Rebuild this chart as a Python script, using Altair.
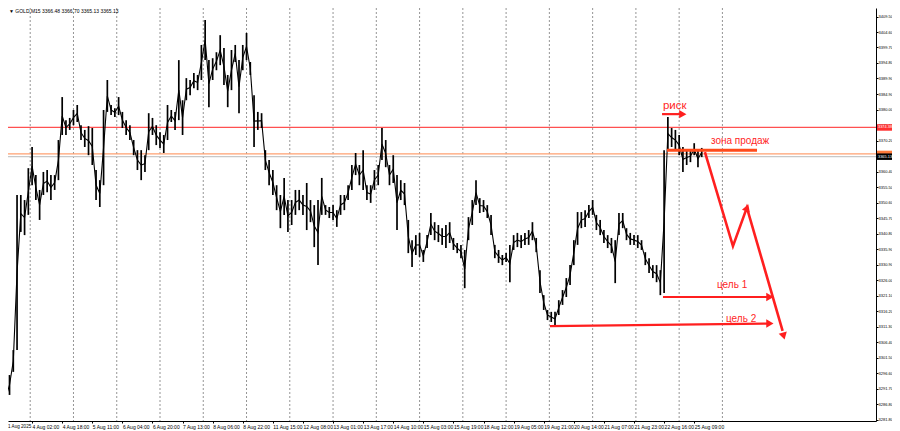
import json
import altair as alt
import pandas as pd

# ---- price data (GOLD M15, sampled every 2 trading hours: high / low) ----
hours = list(range(0, 374, 2))
highs = [3298.2, 3292.8, 3296.0, 3303.9, 3353.0, 3353.0, 3351.4, 3361.5, 3368.2, 3359.3,
         3354.6, 3360.3, 3360.9, 3359.3, 3359.3, 3370.4, 3384.0, 3376.7, 3377.4, 3379.9,
         3381.5, 3375.1, 3373.6, 3374.8, 3374.2, 3360.9, 3357.7, 3379.9, 3389.4, 3381.5,
         3380.5, 3384.0, 3379.3, 3376.7, 3375.1, 3370.4, 3367.2, 3367.2, 3365.6, 3378.9,
         3377.4, 3375.1, 3372.9, 3372.0, 3381.5, 3379.9, 3379.3, 3395.7, 3383.0, 3390.0,
         3389.4, 3391.6, 3391.0, 3400.5, 3408.4, 3395.7, 3396.3, 3398.2, 3403.6, 3399.5,
         3391.0, 3398.9, 3400.5, 3395.7, 3400.5, 3404.3, 3395.1, 3384.6, 3379.3, 3378.9,
         3367.2, 3364.1, 3360.9, 3356.1, 3353.0, 3358.4, 3351.4, 3351.4, 3354.6, 3354.6,
         3353.0, 3356.8, 3351.4, 3349.8, 3351.4, 3358.4, 3349.8, 3349.2, 3349.8, 3348.2,
         3353.0, 3353.0, 3356.1, 3362.5, 3366.3, 3362.5, 3367.2, 3356.1, 3356.1, 3360.9,
         3362.5, 3374.2, 3370.4, 3362.5, 3365.6, 3359.3, 3357.7, 3356.8, 3345.1, 3338.7,
         3340.3, 3341.0, 3335.6, 3340.3, 3347.3, 3344.4, 3343.5, 3342.5, 3343.5, 3344.4,
         3339.4, 3337.8, 3337.2, 3335.6, 3346.0, 3351.4, 3357.7, 3352.0, 3351.4, 3349.8,
         3346.7, 3337.2, 3335.6, 3334.0, 3334.6, 3337.2, 3340.3, 3341.0, 3340.3, 3341.0,
         3341.9, 3344.4, 3339.4, 3329.2, 3321.3, 3316.6, 3316.0, 3316.0, 3319.7, 3322.9,
         3326.7, 3330.8, 3338.7, 3347.6, 3347.6, 3348.2, 3349.8, 3351.4, 3346.7, 3345.1,
         3341.9, 3340.3, 3339.4, 3338.7, 3347.3, 3347.3, 3342.5, 3341.0, 3340.3, 3340.3,
         3338.7, 3334.9, 3333.0, 3330.8, 3330.8, 3329.2, 3367.2, 3377.7, 3374.2, 3373.6,
         3372.0, 3368.2, 3367.2, 3367.2, 3369.4, 3367.2, 3367.9]
lows = [3292.8, 3284.9, 3289.7, 3297.0, 3303.9, 3341.3, 3340.3, 3346.7, 3356.1, 3351.4,
        3345.1, 3353.0, 3353.9, 3351.4, 3354.6, 3357.7, 3372.0, 3372.0, 3373.6, 3375.1,
        3376.1, 3370.4, 3368.2, 3365.6, 3362.5, 3351.4, 3349.2, 3356.1, 3379.3, 3378.3,
        3377.7, 3378.3, 3374.2, 3372.0, 3370.4, 3365.6, 3360.9, 3357.7, 3360.3, 3367.2,
        3372.0, 3368.8, 3367.9, 3366.3, 3370.4, 3376.1, 3373.6, 3376.7, 3372.0, 3383.0,
        3384.6, 3386.8, 3386.2, 3389.4, 3395.7, 3380.8, 3389.4, 3392.5, 3394.1, 3387.8,
        3380.8, 3386.2, 3395.1, 3378.9, 3392.5, 3395.7, 3391.0, 3368.2, 3373.6, 3374.2,
        3360.9, 3356.1, 3353.0, 3348.2, 3342.5, 3346.7, 3341.3, 3343.5, 3346.7, 3348.2,
        3346.7, 3341.9, 3344.4, 3336.5, 3330.8, 3346.7, 3346.7, 3345.7, 3345.1, 3342.9,
        3346.7, 3348.2, 3351.4, 3354.6, 3359.3, 3356.1, 3354.6, 3351.4, 3350.5, 3354.6,
        3356.1, 3364.1, 3361.8, 3356.1, 3356.8, 3341.9, 3351.4, 3349.8, 3334.6, 3330.2,
        3334.0, 3333.4, 3331.8, 3336.2, 3340.3, 3338.7, 3338.1, 3337.2, 3336.2, 3337.8,
        3335.6, 3334.6, 3333.0, 3323.5, 3338.7, 3343.5, 3349.8, 3347.3, 3347.6, 3345.7,
        3340.3, 3333.0, 3331.5, 3330.8, 3331.8, 3325.4, 3335.6, 3336.5, 3336.2, 3337.2,
        3337.2, 3338.7, 3334.9, 3322.0, 3316.6, 3313.4, 3312.8, 3311.5, 3315.0, 3318.2,
        3320.7, 3324.5, 3330.8, 3337.2, 3342.5, 3342.9, 3345.7, 3346.7, 3341.9, 3340.3,
        3337.8, 3336.2, 3334.6, 3325.1, 3340.3, 3342.5, 3338.7, 3337.2, 3337.2, 3336.2,
        3335.6, 3330.8, 3328.3, 3326.7, 3325.4, 3321.3, 3322.0, 3367.2, 3368.2, 3367.2,
        3365.6, 3360.3, 3362.5, 3363.4, 3365.6, 3361.8, 3365.0]

# ---- axes ----
first_label = "1 Aug 2025"
label_hours = [16, 32, 48, 64, 80, 96, 112, 128, 144, 160, 176, 192, 208, 224, 240,
               256, 272, 288, 304, 320, 336, 352, 368]
label_texts = ["4 Aug 02:00", "4 Aug 18:00", "5 Aug 11:00", "6 Aug 04:00", "6 Aug 20:00",
               "7 Aug 13:00", "8 Aug 06:00", "8 Aug 22:00", "11 Aug 15:00", "12 Aug 08:00",
               "13 Aug 01:00", "13 Aug 17:00", "14 Aug 10:00", "15 Aug 03:00", "15 Aug 19:00",
               "18 Aug 12:00", "19 Aug 05:00", "19 Aug 21:00", "20 Aug 14:00", "21 Aug 07:00",
               "21 Aug 23:00", "22 Aug 16:00", "25 Aug 09:00"]
day_separators = [15, 38, 61, 84, 107, 130, 153, 176, 199, 222, 245, 268, 291, 314, 337, 360, 383]
price_ticks = [3409.50, 3404.60, 3399.70, 3394.80, 3389.90, 3384.90, 3380.00, 3375.10,
               3370.20, 3365.30, 3360.40, 3355.50, 3350.60, 3345.70, 3340.80, 3335.90,
               3330.90, 3326.00, 3321.10, 3316.20, 3311.30, 3306.40, 3301.50, 3296.60,
               3291.70, 3286.80, 3281.80]

# ---- levels ----
level_red = 3374.38
level_orange = 3366.00
bid_price = 3365.13
header = "▼ GOLD,M15  3366.48 3366.70 3365.13 3365.13"

# ---- annotations ----
zone_x = [353.5, 401.4]
zone_price = 3367.2
t1_x = [351.4, 408.0]
t1_price = [3320.7, 3320.7]
t2_x = [291.3, 408.0]
t2_price = [3311.5, 3312.3]
fc_x = [373.7, 388.6, 396.0, 415.0]
fc_price = [3366.6, 3336.8, 3349.0, 3310.0]
risk_x = [350.9, 361.0]
risk_price = 3378.6
ah_x = [407.6, 407.6, 361.3, 395.9, 415.4]
ah_price = [3320.7, 3312.3, 3378.6, 3348.6, 3308.7]
ah_angle = [90, 90, 90, 20, 165]
txt_x = [351.4, 376.9, 380.1, 384.9]
txt_price = [3381.2, 3370.2, 3324.4, 3313.8]
txt_label = ["риск", "зона продаж", "цель 1", "цель 2"]
txt_size = [11.5, 10, 10, 10]

RED = "#ff1f1f"
FONT = "Liberation Sans"

xs = alt.Scale(domain=[3.19, 464.65], nice=False, zero=False)
ys = alt.Scale(domain=[3281.45, 3412.2], nice=False, zero=False)

label_map = json.dumps(dict(zip([str(h) for h in label_hours], label_texts)), ensure_ascii=False)
x_axis = alt.Axis(values=label_hours, labelExpr=f"{label_map}[''+datum.value]", orient="bottom",
                  grid=False, domain=True, domainColor="black", ticks=True, tickColor="black",
                  tickSize=2, labelAlign="left", labelFontSize=5, labelFont=FONT,
                  labelColor="black", labelPadding=1, labelOverlap=False, labelFlush=False,
                  title=None)
y_axis = alt.Axis(values=price_ticks, format=".2f", orient="right", grid=False,
                  domain=True, domainColor="black", ticks=True, tickColor="black", tickSize=2,
                  labelFontSize=4.0, labelFont=FONT, labelColor="black", labelPadding=0,
                  labelOverlap=False, labelFlush=False, title=None)


def X(field):
    return alt.X(field, type="quantitative", scale=xs, axis=x_axis)


def Y(field):
    return alt.Y(field, type="quantitative", scale=ys, axis=y_axis)


bars = pd.DataFrame({"hour": hours, "high": highs, "low": lows})
bars["mid"] = (bars["high"] + bars["low"]) / 2
base = alt.Chart(bars)

rules = base.mark_rule(color="black", strokeWidth=1.7, clip=True).encode(
    x=X("hour"), y=Y("low"), y2="high:Q"
)
line = base.mark_line(color="black", strokeWidth=1.1, clip=True).encode(x=X("hour"), y=Y("mid"))

sep = alt.Chart(pd.DataFrame({"hour": day_separators})).mark_rule(
    color="#7a7a7a", strokeDash=[2, 2], strokeWidth=0.8
).encode(x=X("hour"))

levels = alt.Chart(pd.DataFrame({
    "price": [bid_price, level_orange, level_red],
    "c": ["#c8c8c8", "#ffa070", "#ff5050"],
})).mark_rule(strokeWidth=1.2).encode(y=Y("price"), color=alt.Color("c:N", scale=None))

zone = alt.Chart(pd.DataFrame({"x": [zone_x[0]], "x2": [zone_x[1]], "p": [zone_price]})).mark_rule(
    color="#ff4a1a", strokeWidth=3
).encode(x=X("x"), x2="x2:Q", y=Y("p"))

segs = pd.DataFrame({
    "x": [t1_x[0], t2_x[0], risk_x[0]],
    "x2": [t1_x[1], t2_x[1], risk_x[1]],
    "p": [t1_price[0], t2_price[0], risk_price],
    "p2": [t1_price[1], t2_price[1], risk_price],
})
targets = alt.Chart(segs).mark_rule(color=RED, strokeWidth=2.2).encode(
    x=X("x"), x2="x2:Q", y=Y("p"), y2="p2:Q"
)

fc = alt.Chart(pd.DataFrame({"x": fc_x, "p": fc_price, "o": list(range(len(fc_x)))})).mark_line(
    color=RED, strokeWidth=2.6, strokeJoin="miter"
).encode(x=X("x"), y=Y("p"), order="o:Q")

heads = alt.Chart(pd.DataFrame({"x": ah_x, "p": ah_price, "a": ah_angle})).mark_point(
    shape="triangle", filled=True, color=RED, size=70, opacity=1
).encode(x=X("x"), y=Y("p"), angle=alt.Angle("a:Q", scale=None))

texts = alt.Chart(pd.DataFrame({"x": txt_x, "p": txt_price, "t": txt_label, "s": txt_size})).mark_text(
    align="left", baseline="middle", color=RED, font=FONT
).encode(x=X("x"), y=Y("p"), text="t:N", size=alt.Size("s:Q", scale=None))

tags_df = pd.DataFrame({
    "p": [level_red, level_orange, bid_price],
    "c": ["#ff3030", "#ff7a3a", "#000000"],
    "o": [0, 1, 2],
})
tag_box = alt.Chart(tags_df).mark_rule(strokeWidth=6.5, strokeCap="butt", clip=False).encode(
    x=alt.value(869), x2=alt.value(884), y=Y("p"),
    color=alt.Color("c:N", scale=None), order="o:Q",
)
tag_txt_df = pd.DataFrame({
    "p": [level_red, bid_price],
    "t": [f"{level_red:.2f}", f"{bid_price:.2f}"],
})
tag_txt = alt.Chart(tag_txt_df).mark_text(align="left", baseline="middle", color="white",
                                          fontSize=3.9, font=FONT, clip=False).encode(
    x=alt.value(870), y=Y("p"), text="t:N"
)

head_txt = alt.Chart(pd.DataFrame({"t": [header]})).mark_text(
    align="left", baseline="top", fontSize=5, font=FONT, color="black"
).encode(x=alt.value(1), y=alt.value(1), text="t:N")

first_txt = alt.Chart(pd.DataFrame({"t": [first_label]})).mark_text(
    align="left", baseline="top", fontSize=4.6, font=FONT, color="black"
).encode(x=alt.value(0), y=alt.value(416), text="t:N")

chart = alt.layer(
    sep, levels, rules, line, zone, targets, fc, heads, texts, tag_box, tag_txt, head_txt,
    first_txt
).properties(
    width=868, height=413, autosize="none",
    padding={"left": 0, "top": 0, "right": 16, "bottom": 10},
    background="white",
).configure_view(stroke=None)

chart.save("out.html", embed_options={"renderer": "svg", "actions": False})
